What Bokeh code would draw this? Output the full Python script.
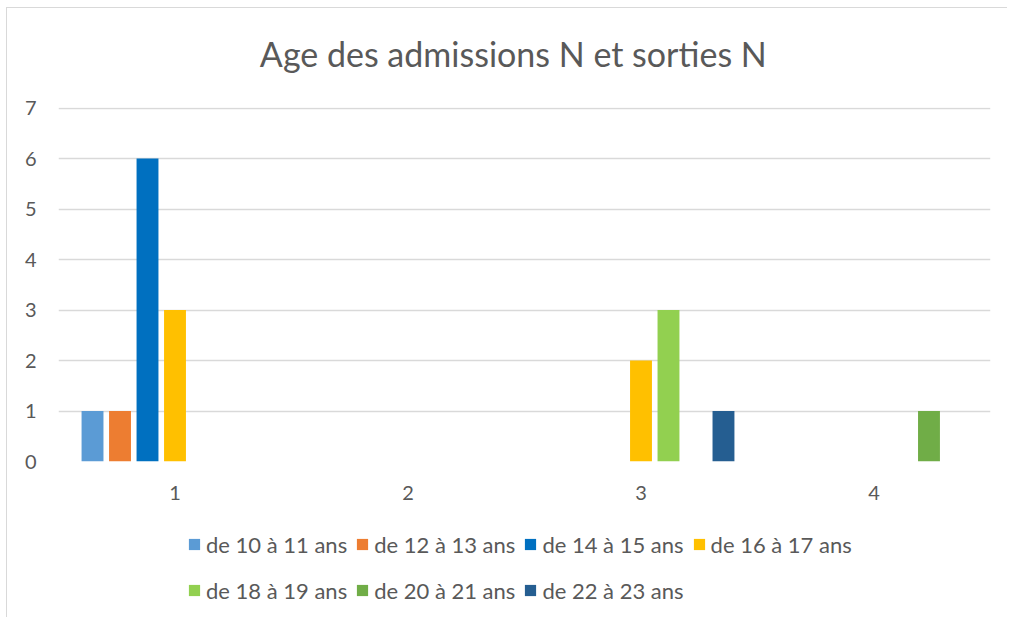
from bokeh.plotting import figure
from bokeh.models import Range1d, FixedTicker, Legend, LegendItem
from bokeh.layouts import column
from bokeh.embed import file_html
from bokeh.resources import INLINE

title_text = "Age des admissions N et sorties N"
categories = [1, 2, 3, 4]
series_names = ["de 10 à 11 ans", "de 12 à 13 ans", "de 14 à 15 ans", "de 16 à 17 ans",
                "de 18 à 19 ans", "de 20 à 21 ans", "de 22 à 23 ans"]
v_10_11 = [1, 0, 0, 0]
v_12_13 = [1, 0, 0, 0]
v_14_15 = [6, 0, 0, 0]
v_16_17 = [3, 0, 2, 0]
v_18_19 = [0, 0, 3, 0]
v_20_21 = [0, 0, 0, 1]
v_22_23 = [0, 0, 1, 0]
series_values = [v_10_11, v_12_13, v_14_15, v_16_17, v_18_19, v_20_21, v_22_23]
colors = ["#5B9BD5", "#ED7D31", "#0070C0", "#FFC000", "#92D050", "#70AD47", "#255E91"]
y_ticks = [0, 1, 2, 3, 4, 5, 6, 7]

FONT = "Lato"
GREY = "#595959"


def blank(fig):
    fig.axis.visible = False
    fig.grid.visible = False
    fig.outline_line_color = None


# title panel
p0 = figure(width=1000, height=87, output_backend="svg", toolbar_location=None,
            x_range=Range1d(0, 1), y_range=Range1d(0, 1),
            min_border_left=0, min_border_right=0, min_border_top=0, min_border_bottom=0)
blank(p0)
p0.text(x=[0.488], y=[0.483], text=[title_text], text_font={"value": FONT},
        text_font_size="34px", text_color=GREY, text_align="center", text_baseline="middle")

# main chart
p = figure(width=1000, height=414, output_backend="svg", toolbar_location=None,
           x_range=Range1d(0.5, 4.5), y_range=Range1d(0, 7.01),
           min_border_left=51, min_border_right=17, min_border_top=12, min_border_bottom=48)
p.outline_line_color = None
p.xgrid.grid_line_color = None
p.ygrid.grid_line_color = "#D9D9D9"
p.ygrid.grid_line_width = 1.3

p.yaxis.ticker = FixedTicker(ticks=y_ticks)
p.xaxis.ticker = FixedTicker(ticks=categories)
for ax in (p.xaxis, p.yaxis):
    ax.axis_line_color = None
    ax.major_tick_line_color = None
    ax.minor_tick_line_color = None
    ax.major_tick_out = 0
    ax.major_tick_in = 0
    ax.major_label_text_font = FONT
    ax.major_label_text_font_size = "20px"
    ax.major_label_text_color = GREY
p.yaxis.major_label_standoff = 22
p.xaxis.major_label_standoff = 24

step = 0.118
bw = 0.094
for i, (vals, col) in enumerate(zip(series_values, colors)):
    xs = [c + (i - 3) * step for c in categories]
    p.vbar(x=xs, top=vals, width=bw, bottom=0, fill_color=col, line_color=None)

# legend panel
p2 = figure(width=1000, height=108, output_backend="svg", toolbar_location=None,
            x_range=Range1d(0, 1), y_range=Range1d(0, 1),
            min_border_left=0, min_border_right=0, min_border_top=0, min_border_bottom=0)
blank(p2)

items = []
nan = float("nan")
for name, col in zip(series_names, colors):
    r = p2.vbar(x=[nan], top=[nan], bottom=[nan], width=0.1, fill_color=col, line_color=None)
    items.append(LegendItem(label=name, renderers=[r]))

common = dict(orientation="horizontal", label_text_font=FONT, label_text_font_size="22px",
              label_text_color=GREY, glyph_width=14, glyph_height=14, label_standoff=5,
              spacing=8, label_height=38, padding=0, margin=0, border_line_color=None,
              background_fill_alpha=0)
legend1 = Legend(items=items[:4], location=(129, 54), **common)
legend2 = Legend(items=items[4:], location=(129, 8), **common)
p2.add_layout(legend1, "center")
p2.add_layout(legend2, "center")

layout = column(p0, p, p2, spacing=0, margin=(7, 0, 0, 6),
                styles={"border-left": "1px solid #d9d9d9", "border-top": "1px solid #d9d9d9"})

open("out.html", "w").write(file_html(layout, INLINE))
